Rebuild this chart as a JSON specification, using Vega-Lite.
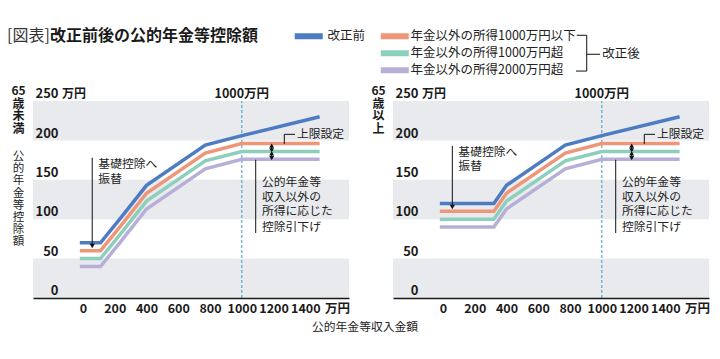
{
  "$schema": "https://vega.github.io/schema/vega-lite/v6.json",
  "padding": {"left": 7, "top": 27, "right": 5, "bottom": 5},
  "bounds": "flush",
  "spacing": 44,
  "config": {
    "font": "Noto Sans CJK JP",
    "view": {"stroke": null},
    "text": {"font": "Noto Sans CJK JP"}
  },
  "datasets": {
    "Lpre": [
      {"x": -20, "y": 70, "k": "改正前"}, {"x": 110, "y": 70, "k": "改正前"}, {"x": 235, "y": 101, "k": "改正前"},
      {"x": 400, "y": 143, "k": "改正前"}, {"x": 770, "y": 194, "k": "改正前"}, {"x": 1000, "y": 206, "k": "改正前"},
      {"x": 1490, "y": 230, "k": "改正前"}
    ],
    "Lpost": [
      {"x": -20, "y": 60, "g": "年金以外の所得1000万円以下"}, {"x": 110, "y": 60, "g": "年金以外の所得1000万円以下"},
      {"x": 235, "y": 91, "g": "年金以外の所得1000万円以下"}, {"x": 400, "y": 133, "g": "年金以外の所得1000万円以下"},
      {"x": 770, "y": 184, "g": "年金以外の所得1000万円以下"}, {"x": 1000, "y": 196, "g": "年金以外の所得1000万円以下"},
      {"x": 1490, "y": 196, "g": "年金以外の所得1000万円以下"},
      {"x": -20, "y": 50, "g": "年金以外の所得1000万円超"}, {"x": 110, "y": 50, "g": "年金以外の所得1000万円超"},
      {"x": 235, "y": 81, "g": "年金以外の所得1000万円超"}, {"x": 400, "y": 123, "g": "年金以外の所得1000万円超"},
      {"x": 770, "y": 174, "g": "年金以外の所得1000万円超"}, {"x": 1000, "y": 186, "g": "年金以外の所得1000万円超"},
      {"x": 1490, "y": 186, "g": "年金以外の所得1000万円超"},
      {"x": -20, "y": 40, "g": "年金以外の所得2000万円超"}, {"x": 110, "y": 40, "g": "年金以外の所得2000万円超"},
      {"x": 235, "y": 71, "g": "年金以外の所得2000万円超"}, {"x": 400, "y": 113, "g": "年金以外の所得2000万円超"},
      {"x": 770, "y": 164, "g": "年金以外の所得2000万円超"}, {"x": 1000, "y": 176, "g": "年金以外の所得2000万円超"},
      {"x": 1490, "y": 176, "g": "年金以外の所得2000万円超"}
    ],
    "Rpre": [
      {"x": -20, "y": 120, "k": "改正前"}, {"x": 320, "y": 120, "k": "改正前"}, {"x": 400, "y": 143, "k": "改正前"},
      {"x": 770, "y": 194, "k": "改正前"}, {"x": 1000, "y": 206, "k": "改正前"}, {"x": 1490, "y": 230, "k": "改正前"}
    ],
    "Rpost": [
      {"x": -20, "y": 110, "g": "年金以外の所得1000万円以下"}, {"x": 320, "y": 110, "g": "年金以外の所得1000万円以下"},
      {"x": 400, "y": 133, "g": "年金以外の所得1000万円以下"}, {"x": 770, "y": 184, "g": "年金以外の所得1000万円以下"},
      {"x": 1000, "y": 196, "g": "年金以外の所得1000万円以下"}, {"x": 1490, "y": 196, "g": "年金以外の所得1000万円以下"},
      {"x": -20, "y": 100, "g": "年金以外の所得1000万円超"}, {"x": 320, "y": 100, "g": "年金以外の所得1000万円超"},
      {"x": 400, "y": 123, "g": "年金以外の所得1000万円超"}, {"x": 770, "y": 174, "g": "年金以外の所得1000万円超"},
      {"x": 1000, "y": 186, "g": "年金以外の所得1000万円超"}, {"x": 1490, "y": 186, "g": "年金以外の所得1000万円超"},
      {"x": -20, "y": 90, "g": "年金以外の所得2000万円超"}, {"x": 320, "y": 90, "g": "年金以外の所得2000万円超"},
      {"x": 400, "y": 113, "g": "年金以外の所得2000万円超"}, {"x": 770, "y": 164, "g": "年金以外の所得2000万円超"},
      {"x": 1000, "y": 176, "g": "年金以外の所得2000万円超"}, {"x": 1490, "y": 176, "g": "年金以外の所得2000万円超"}
    ],
    "bands": [
      {"x": -315, "x2": 1675, "y": 0, "y2": 50},
      {"x": -315, "x2": 1675, "y": 100, "y2": 150},
      {"x": -315, "x2": 1675, "y": 200, "y2": 250}
    ],
    "dash": [{"x": 1000, "y": 0, "y2": 250}],
    "commonV": [
      {"x": 1267.6, "y": 207.7, "y2": 195.5},
      {"x": 1188, "y": 194.5, "y2": 186.5},
      {"x": 1188, "y": 184.5, "y2": 176.5},
      {"x": 1087.5, "y": 175.5, "y2": 82.5}
    ],
    "commonH": [{"x": 1267.6, "x2": 1335, "y": 207.7}],
    "commonDown": [{"x": 1188, "y": 187.5}, {"x": 1188, "y": 177.5}],
    "commonUp": [{"x": 1188, "y": 193.5}, {"x": 1188, "y": 183.5}],
    "commonText": [
      {"x": 1347, "y": 208, "t": "上限設定"},
      {"x": 1127, "y": 147.8, "t": "公的年金等"},
      {"x": 1127, "y": 128.8, "t": "収入以外の"},
      {"x": 1127, "y": 109.8, "t": "所得に応じた"},
      {"x": 1127, "y": 90.7, "t": "控除引下げ"}
    ],
    "unitTop": [{"x": 1000, "y": 254, "t": "1000万円"}],
    "unitY": [{"x": -132, "y": 254, "t": "万円"}]
  },
  "hconcat": [
    {
      "width": 316,
      "height": 197,
      "encoding": {
        "x": {"field": "x", "type": "quantitative", "scale": {"domain": [-315, 1675], "nice": false, "zero": false},
          "axis": {"title": null, "zindex": 1, "values": [0, 200, 400, 600, 800, 1000, 1200, 1400, 1600], "format": "d",
            "labelExpr": "datum.value == 1600 ? '万円' : datum.label", "grid": false, "ticks": false,
            "domainColor": "#1a1a1a", "domainWidth": 1.5, "labelFontSize": 12.5, "labelFontWeight": "bold",
            "labelColor": "#1a1a1a", "labelPadding": 4, "labelOverlap": false, "labelFlush": false, "labelBound": false}},
        "y": {"field": "y", "type": "quantitative", "scale": {"domain": [0, 250], "nice": false},
          "axis": {"title": null, "zindex": 1, "values": [0, 50, 100, 150, 200, 250], "grid": false, "ticks": false, "domain": false,
            "labelAlign": "right", "labelBaseline": "alphabetic", "labelPadding": -25, "labelOffset": -3.3,
            "labelFontSize": 13, "labelFontWeight": "bold", "labelColor": "#1a1a1a", "labelOverlap": false,
            "labelBound": false, "labelFlush": false}}
      },
      "layer": [
        {"data": {"name": "bands"}, "mark": {"type": "rect", "color": "#e8eaed"},
          "encoding": {"x2": {"field": "x2"}, "y2": {"field": "y2"}}},
        {"data": {"name": "dash"}, "mark": {"type": "rule", "color": "#3a9cc8", "strokeDash": [3, 2], "strokeWidth": 1},
          "encoding": {"y2": {"field": "y2"}}},
        {"data": {"name": "Lpost"}, "mark": {"type": "line", "strokeWidth": 3.5},
          "encoding": {"stroke": {"field": "g", "type": "nominal",
            "scale": {"domain": ["年金以外の所得1000万円以下", "年金以外の所得1000万円超", "年金以外の所得2000万円超"], "range": ["#ef9679", "#8dcfbd", "#b8afd8"]},
            "legend": {"title": null, "orient": "none", "legendX": 345, "legendY": -71, "symbolType": "M-1,-0.86H7V0.86H-1Z",
              "symbolSize": 49, "symbolStrokeWidth": 0, "labelFontSize": 12.5, "labelColor": "#222", "labelOffset": 20,
              "labelLimit": 400, "padding": 0, "rowPadding": 4, "labelFont": "Noto Sans CJK JP",
              "encode": {"symbols": {"update": {"fill": {"scale": "stroke", "field": "value"}, "strokeWidth": {"value": 0}}}}}}}},
        {"data": {"name": "Lpre"}, "mark": {"type": "line", "strokeWidth": 3.5},
          "encoding": {"color": {"field": "k", "type": "nominal", "scale": {"domain": ["改正前"], "range": ["#4d7cc2"]},
            "legend": {"title": null, "orient": "none", "legendX": 259, "legendY": -71, "symbolType": "M-1,-0.86H7V0.86H-1Z",
              "symbolSize": 49, "symbolStrokeWidth": 0, "labelFontSize": 12.5, "labelColor": "#222", "labelOffset": 23,
              "labelLimit": 400, "padding": 0, "labelFont": "Noto Sans CJK JP",
              "encode": {"symbols": {"update": {"fill": {"scale": "color", "field": "value"}, "strokeWidth": {"value": 0}}}}}}}},
        {"data": {"values": [{"x": 58, "y": 178, "y2": 67}]}, "mark": {"type": "rule", "color": "#111", "strokeWidth": 1},
          "encoding": {"y2": {"field": "y2"}}},
        {"data": {"name": "commonV"}, "mark": {"type": "rule", "color": "#111", "strokeWidth": 1},
          "encoding": {"y2": {"field": "y2"}}},
        {"data": {"name": "commonH"}, "mark": {"type": "rule", "color": "#111", "strokeWidth": 1},
          "encoding": {"x2": {"field": "x2"}}},
        {"data": {"values": [{"x": 58, "y": 66}]}, "mark": {"type": "point", "shape": "triangle-down", "filled": true, "color": "#111", "size": 28, "opacity": 1}},
        {"data": {"name": "commonDown"}, "mark": {"type": "point", "shape": "triangle-down", "filled": true, "color": "#111", "size": 24, "opacity": 1}},
        {"data": {"name": "commonUp"}, "mark": {"type": "point", "shape": "triangle-up", "filled": true, "color": "#111", "size": 24, "opacity": 1}},
        {"data": {"name": "commonText"}, "mark": {"type": "text", "align": "left", "baseline": "middle", "fontSize": 11.8, "color": "#222"},
          "encoding": {"text": {"field": "t"}}},
        {"data": {"values": [{"x": 96.6, "y": 169.6, "t": "基礎控除へ"}, {"x": 96.6, "y": 151.4, "t": "振替"}]},
          "mark": {"type": "text", "align": "left", "baseline": "middle", "fontSize": 11.8, "color": "#222"},
          "encoding": {"text": {"field": "t"}}},
        {"data": {"name": "unitTop"}, "mark": {"type": "text", "align": "center", "baseline": "alphabetic", "fontSize": 12.5, "fontWeight": "bold", "color": "#1a1a1a"},
          "encoding": {"text": {"field": "t"}}},
        {"data": {"name": "unitY"}, "mark": {"type": "text", "align": "left", "baseline": "alphabetic", "fontSize": 12, "fontWeight": "bold", "color": "#1a1a1a"},
          "encoding": {"text": {"field": "t"}}},
        {"data": {"values": [{"x": -478.6, "y": 332.5, "t": "[図表]"}]},
          "mark": {"type": "text", "align": "left", "baseline": "middle", "fontSize": 16, "color": "#333"},
          "encoding": {"text": {"field": "t"}}},
        {"data": {"values": [{"x": -207.8, "y": 332.5, "t": "改正前後の公的年金等控除額"}]},
          "mark": {"type": "text", "align": "left", "baseline": "middle", "fontSize": 16, "fontWeight": "bold", "color": "#1a1a1a"},
          "encoding": {"text": {"field": "t"}}},
        {"data": {"values": [{"x": -406, "y": 269, "t": "65\n歳\n未\n満"}]},
          "mark": {"type": "text", "align": "center", "baseline": "top", "fontSize": 12, "fontWeight": "bold", "color": "#1a1a1a", "lineBreak": "\n", "lineHeight": 12.5},
          "encoding": {"text": {"field": "t"}}},
        {"data": {"values": [{"x": -407, "y": 186.5, "t": "公\n的\n年\n金\n等\n控\n除\n額"}]},
          "mark": {"type": "text", "align": "center", "baseline": "top", "fontSize": 11.5, "color": "#222", "lineBreak": "\n", "lineHeight": 12.2},
          "encoding": {"text": {"field": "t"}}},
        {"data": {"values": [{"x": 1776, "y": -36.8, "t": "公的年金等収入金額"}]},
          "mark": {"type": "text", "align": "center", "baseline": "middle", "fontSize": 11.8, "color": "#222"},
          "encoding": {"text": {"field": "t"}}}
      ]
    },
    {
      "width": 316,
      "height": 197,
      "encoding": {
        "x": {"field": "x", "type": "quantitative", "scale": {"domain": [-315, 1675], "nice": false, "zero": false},
          "axis": {"title": null, "zindex": 1, "values": [0, 200, 400, 600, 800, 1000, 1200, 1400, 1600], "format": "d",
            "labelExpr": "datum.value == 1600 ? '万円' : datum.label", "grid": false, "ticks": false,
            "domainColor": "#1a1a1a", "domainWidth": 1.5, "labelFontSize": 12.5, "labelFontWeight": "bold",
            "labelColor": "#1a1a1a", "labelPadding": 4, "labelOverlap": false, "labelFlush": false, "labelBound": false}},
        "y": {"field": "y", "type": "quantitative", "scale": {"domain": [0, 250], "nice": false},
          "axis": {"title": null, "zindex": 1, "values": [0, 50, 100, 150, 200, 250], "grid": false, "ticks": false, "domain": false,
            "labelAlign": "right", "labelBaseline": "alphabetic", "labelPadding": -25, "labelOffset": -3.3,
            "labelFontSize": 13, "labelFontWeight": "bold", "labelColor": "#1a1a1a", "labelOverlap": false,
            "labelBound": false, "labelFlush": false}}
      },
      "layer": [
        {"data": {"name": "bands"}, "mark": {"type": "rect", "color": "#e8eaed"},
          "encoding": {"x2": {"field": "x2"}, "y2": {"field": "y2"}}},
        {"data": {"name": "dash"}, "mark": {"type": "rule", "color": "#3a9cc8", "strokeDash": [3, 2], "strokeWidth": 1},
          "encoding": {"y2": {"field": "y2"}}},
        {"data": {"name": "Rpost"}, "mark": {"type": "line", "strokeWidth": 3.5},
          "encoding": {"stroke": {"field": "g", "type": "nominal",
            "scale": {"domain": ["年金以外の所得1000万円以下", "年金以外の所得1000万円超", "年金以外の所得2000万円超"], "range": ["#ef9679", "#8dcfbd", "#b8afd8"]},
            "legend": {"title": null, "orient": "none", "legendX": 345, "legendY": -71, "symbolType": "M-1,-0.86H7V0.86H-1Z",
              "symbolSize": 49, "symbolStrokeWidth": 0, "labelFontSize": 12.5, "labelColor": "#222", "labelOffset": 20,
              "labelLimit": 400, "padding": 0, "rowPadding": 4, "labelFont": "Noto Sans CJK JP",
              "encode": {"symbols": {"update": {"fill": {"scale": "stroke", "field": "value"}, "strokeWidth": {"value": 0}}}}}}}},
        {"data": {"name": "Rpre"}, "mark": {"type": "line", "strokeWidth": 3.5},
          "encoding": {"color": {"field": "k", "type": "nominal", "scale": {"domain": ["改正前"], "range": ["#4d7cc2"]},
            "legend": {"title": null, "orient": "none", "legendX": 259, "legendY": -71, "symbolType": "M-1,-0.86H7V0.86H-1Z",
              "symbolSize": 49, "symbolStrokeWidth": 0, "labelFontSize": 12.5, "labelColor": "#222", "labelOffset": 23,
              "labelLimit": 400, "padding": 0, "labelFont": "Noto Sans CJK JP",
              "encode": {"symbols": {"update": {"fill": {"scale": "color", "field": "value"}, "strokeWidth": {"value": 0}}}}}}}},
        {"data": {"values": [{"x": 58.6, "y": 193, "y2": 117}]}, "mark": {"type": "rule", "color": "#111", "strokeWidth": 1},
          "encoding": {"y2": {"field": "y2"}}},
        {"data": {"name": "commonV"}, "mark": {"type": "rule", "color": "#111", "strokeWidth": 1},
          "encoding": {"y2": {"field": "y2"}}},
        {"data": {"name": "commonH"}, "mark": {"type": "rule", "color": "#111", "strokeWidth": 1},
          "encoding": {"x2": {"field": "x2"}}},
        {"data": {"values": [{"x": 58.6, "y": 115.5}]}, "mark": {"type": "point", "shape": "triangle-down", "filled": true, "color": "#111", "size": 28, "opacity": 1}},
        {"data": {"name": "commonDown"}, "mark": {"type": "point", "shape": "triangle-down", "filled": true, "color": "#111", "size": 24, "opacity": 1}},
        {"data": {"name": "commonUp"}, "mark": {"type": "point", "shape": "triangle-up", "filled": true, "color": "#111", "size": 24, "opacity": 1}},
        {"data": {"name": "commonText"}, "mark": {"type": "text", "align": "left", "baseline": "middle", "fontSize": 11.8, "color": "#222"},
          "encoding": {"text": {"field": "t"}}},
        {"data": {"values": [{"x": 96.6, "y": 185.7, "t": "基礎控除へ"}, {"x": 96.6, "y": 167.5, "t": "振替"}]},
          "mark": {"type": "text", "align": "left", "baseline": "middle", "fontSize": 11.8, "color": "#222"},
          "encoding": {"text": {"field": "t"}}},
        {"data": {"name": "unitTop"}, "mark": {"type": "text", "align": "center", "baseline": "alphabetic", "fontSize": 12.5, "fontWeight": "bold", "color": "#1a1a1a"},
          "encoding": {"text": {"field": "t"}}},
        {"data": {"name": "unitY"}, "mark": {"type": "text", "align": "left", "baseline": "alphabetic", "fontSize": 12, "fontWeight": "bold", "color": "#1a1a1a"},
          "encoding": {"text": {"field": "t"}}},
        {"data": {"values": [{"x": -406, "y": 269, "t": "65\n歳\n以\n上"}]},
          "mark": {"type": "text", "align": "center", "baseline": "top", "fontSize": 12, "fontWeight": "bold", "color": "#1a1a1a", "lineBreak": "\n", "lineHeight": 12.5},
          "encoding": {"text": {"field": "t"}}},
        {"data": {"values": [{"x": 842, "x2": 905, "y": 333.4}, {"x": 837.5, "x2": 905, "y": 288}, {"x": 905, "x2": 988.7, "y": 309.3}]},
          "mark": {"type": "rule", "color": "#111", "strokeWidth": 1},
          "encoding": {"x2": {"field": "x2"}}},
        {"data": {"values": [{"x": 905, "y": 333.4, "y2": 288}]},
          "mark": {"type": "rule", "color": "#111", "strokeWidth": 1},
          "encoding": {"y2": {"field": "y2"}}},
        {"data": {"values": [{"x": 1003, "y": 309.3, "t": "改正後"}]},
          "mark": {"type": "text", "align": "left", "baseline": "middle", "fontSize": 12.5, "color": "#222"},
          "encoding": {"text": {"field": "t"}}}
      ]
    }
  ]
}
